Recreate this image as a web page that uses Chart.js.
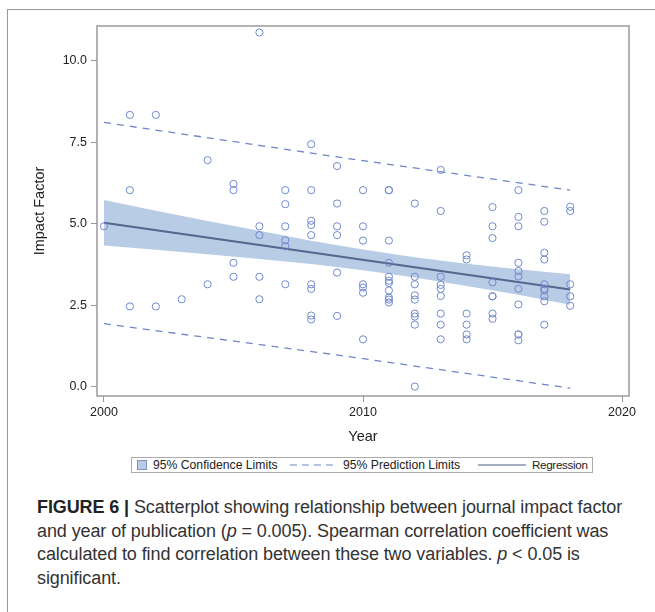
<!DOCTYPE html>
<html>
<head>
<meta charset="utf-8">
<script src="https://cdn.jsdelivr.net/npm/chart.js@4.4.0/dist/chart.umd.min.js"></script>
<style>
  body { margin: 0; background: #fff; width: 655px; height: 612px; overflow: hidden; position: relative;
         font-family: "Liberation Sans", Arial, sans-serif; }
  #frame { position: absolute; left: 7px; top: 9px; width: 700px; height: 700px;
           border-left: 1.5px solid #999; border-top: 1.5px solid #999; }
  #wrap { position: absolute; left: 0; top: 0; width: 655px; height: 450px; }
  #legend { position: absolute; left: 131px; top: 457px; width: 462px; height: 16px;
            border: 1px solid #aaa; box-sizing: border-box; font-size: 12.2px; color: #222; }
  #legend > * { position: absolute; }
  #legend span { top: 0; line-height: 14px; white-space: nowrap; }
  .patch { left: 5px; top: 2px; width: 10px; height: 10px; background: #b8cce6; border: 1px solid #7f93bf; box-sizing: border-box; }
  #caption { position: absolute; left: 37px; top: 496px; font-size: 18px; line-height: 23.5px;
             color: #333; white-space: nowrap; letter-spacing: -0.1px; }
  #caption b { color: #222; }
</style>
</head>
<body>
<div id="frame"></div>
<div id="wrap"><canvas id="myChart"></canvas></div>
<div id="legend">
  <div class="patch"></div>
  <span style="left:21px">95% Confidence Limits</span>
  <svg style="left:158px;top:2px" width="46" height="10"><line x1="0" y1="5" x2="46" y2="5" stroke="#6f86c8" stroke-width="1" stroke-dasharray="7,5"/></svg>
  <span style="left:211px">95% Prediction Limits</span>
  <svg style="left:346px;top:2px" width="48" height="10"><line x1="0" y1="5" x2="48" y2="5" stroke="#4f5f8a" stroke-width="1.2"/></svg>
  <span style="left:400px;font-size:11.6px;letter-spacing:-0.3px">Regression</span>
</div>
<div id="caption"><b>FIGURE 6 |</b> Scatterplot showing relationship between journal impact factor<br>and year of publication (<i>p</i> = 0.005). Spearman correlation coefficient was<br>calculated to find correlation between these two variables. <i>p</i> &lt; 0.05 is<br>significant.</div>
<script>
const pointYears = [
  2000,
  2001, 2001, 2001,
  2002, 2002,
  2003,
  2004, 2004,
  2005, 2005, 2005, 2005,
  2006, 2006, 2006, 2006, 2006,
  2007, 2007, 2007, 2007, 2007, 2007,
  2008, 2008, 2008, 2008, 2008, 2008, 2008, 2008, 2008,
  2009, 2009, 2009, 2009, 2009, 2009,
  2010, 2010, 2010, 2010, 2010, 2010, 2010,
  2011, 2011, 2011, 2011, 2011, 2011, 2011, 2011, 2011, 2011, 2011,
  2012, 2012, 2012, 2012, 2012, 2012, 2012, 2012, 2012,
  2013, 2013, 2013, 2013, 2013, 2013, 2013, 2013, 2013,
  2014, 2014, 2014, 2014, 2014, 2014,
  2015, 2015, 2015, 2015, 2015, 2015, 2015, 2015,
  2016, 2016, 2016, 2016, 2016, 2016, 2016, 2016, 2016, 2016, 2016,
  2017, 2017, 2017, 2017, 2017, 2017, 2017, 2017, 2017, 2017,
  2018, 2018, 2018, 2018, 2018
];
const impactFactor = [
  4.92,
  8.34, 6.03, 2.46,
  8.34, 2.46,
  2.68,
  6.95, 3.14,
  6.22, 6.03, 3.80, 3.37,
  10.87, 4.92, 4.65, 3.37, 2.68,
  6.03, 5.60, 4.92, 4.49, 4.31, 3.14,
  7.44, 6.03, 5.09, 4.96, 4.65, 3.14, 3.00, 2.18, 2.06,
  6.77, 5.62, 4.92, 4.65, 3.50, 2.17,
  6.03, 4.92, 4.48, 3.14, 3.04, 2.88, 1.45,
  6.03, 6.03, 4.48, 3.80, 3.37, 3.25, 3.18, 2.95, 2.73, 2.67, 2.58,
  5.62, 3.37, 3.14, 2.80, 2.67, 2.24, 2.15, 1.90, 0.00,
  6.65, 5.39, 3.37, 3.12, 3.00, 2.78, 2.24, 1.90, 1.45,
  4.03, 3.90, 2.24, 1.90, 1.60, 1.45,
  5.51, 4.92, 4.56, 3.20, 2.77, 2.77, 2.24, 2.08,
  6.03, 5.21, 4.92, 3.80, 3.55, 3.38, 3.00, 2.52, 1.60, 1.60, 1.42,
  5.39, 5.06, 4.11, 3.90, 3.14, 3.00, 2.95, 2.77, 2.62, 1.90,
  5.52, 5.39, 3.14, 2.77, 2.48
];

// regression fit and limits
const fitYears = [2000, 2018];
const fitValues = [5.03, 2.98];
const bandYears = [2000, 2002, 2004, 2006, 2008, 2010, 2012, 2014, 2016, 2018];
const confUpper = [5.73, 5.40, 5.08, 4.78, 4.48, 4.21, 3.97, 3.77, 3.60, 3.45];
const confLower = [4.33, 4.20, 4.06, 3.92, 3.76, 3.57, 3.35, 3.09, 2.82, 2.51];
const predYears = [2000, 2009, 2018];
const predUpper = [8.11, 7.05, 6.03];
const predLower = [1.93, 0.97, -0.05];

const xTicks = [2000, 2010, 2020];
const yTicks = [0, 2.5, 5, 7.5, 10];

const fontFam = '"Liberation Sans", Arial, sans-serif';
const pts = (xs, ys) => xs.map((x, i) => ({ x: x, y: ys[i] }));

const framePlugin = {
  id: 'plotFrame',
  afterDraw: (chart) => {
    const { ctx, chartArea } = chart;
    ctx.save();
    ctx.strokeStyle = '#9a9a9a';
    ctx.lineWidth = 1.5;
    ctx.strokeRect(chartArea.left, chartArea.top, chartArea.right - chartArea.left, chartArea.bottom - chartArea.top);
    ctx.restore();
  }
};

const lineSet = (data, extra) => Object.assign({
  data: data, showLine: true, pointRadius: 0, pointHoverRadius: 0, fill: false, tension: 0
}, extra);

new Chart(document.getElementById('myChart'), {
  type: 'scatter',
  data: {
    datasets: [
      {
        label: 'Impact Factor',
        data: pts(pointYears, impactFactor),
        pointStyle: 'circle',
        pointRadius: 3.6,
        borderColor: '#6f89cf',
        backgroundColor: 'rgba(0,0,0,0)',
        borderWidth: 1
      },
      lineSet(pts(fitYears, fitValues), { label: 'Regression', borderColor: '#55668f', borderWidth: 2 }),
      lineSet(pts(predYears, predUpper), { label: 'Pred upper', borderColor: '#6f86c8', borderWidth: 1.3, borderDash: [7, 6] }),
      lineSet(pts(predYears, predLower), { label: 'Pred lower', borderColor: '#6f86c8', borderWidth: 1.3, borderDash: [7, 6] }),
      lineSet(pts(bandYears, confUpper), { label: 'Conf upper', borderWidth: 0, borderColor: 'rgba(0,0,0,0)', backgroundColor: '#b8cce6', fill: 5 }),
      lineSet(pts(bandYears, confLower), { label: 'Conf lower', borderWidth: 0, borderColor: 'rgba(0,0,0,0)' })
    ]
  },
  options: {
    responsive: true,
    maintainAspectRatio: false,
    animation: false,
    devicePixelRatio: 1,
    layout: { padding: { left: 0, right: 26, top: 26, bottom: 0 } },
    plugins: { legend: { display: false }, tooltip: { enabled: false } },
    scales: {
      x: {
        type: 'linear',
        min: 1999.73,
        max: 2020.27,
        afterBuildTicks: (s) => { s.ticks = xTicks.map(v => ({ value: v })); },
        afterFit: (s) => { s.height = 54; },
        ticks: { font: { family: fontFam, size: 12.5 }, color: '#222', padding: 3, maxRotation: 0, callback: (v) => String(v) },
        grid: { drawOnChartArea: false, drawTicks: true, tickLength: 6, color: '#999' },
        border: { display: false },
        title: { display: true, text: 'Year', color: '#222', font: { family: fontFam, size: 14.5 }, padding: { top: 0, bottom: 4.4 } }
      },
      y: {
        type: 'linear',
        min: -0.29,
        max: 11.07,
        afterBuildTicks: (s) => { s.ticks = yTicks.map(v => ({ value: v })); },
        afterFit: (s) => { s.width = 97; },
        ticks: { font: { family: fontFam, size: 12.5 }, color: '#222', padding: 4, callback: (v) => Number(v).toFixed(1) },
        grid: { drawOnChartArea: false, drawTicks: true, tickLength: 6, color: '#999' },
        border: { display: false },
        title: { display: true, text: 'Impact Factor', color: '#222', font: { family: fontFam, size: 14.5 }, padding: { top: 31.3, bottom: 0 } }
      }
    }
  },
  plugins: [framePlugin]
});
</script>
</body>
</html>
